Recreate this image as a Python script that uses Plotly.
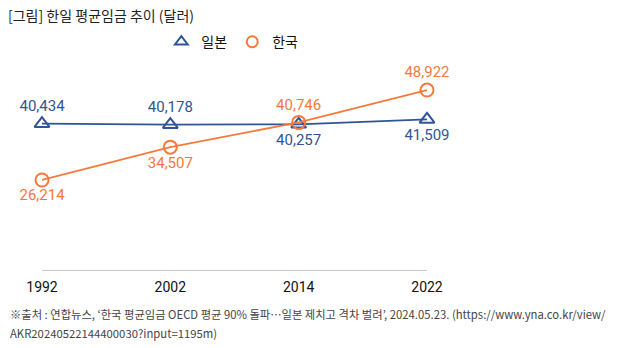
import plotly.graph_objects as go

years = ["1992", "2002", "2014", "2022"]
japan = [40434, 40178, 40257, 41509]
korea = [26214, 34507, 40746, 48922]
japan_pos = ["top center", "top center", "bottom center", "bottom center"]
korea_pos = ["bottom center", "bottom center", "top center", "top center"]

BLUE = "#2F5597"
ORANGE = "#F7793A"
FONT = "Roboto, 'Noto Sans CJK KR', sans-serif"

fig = go.Figure()
fig.add_trace(go.Scatter(
    x=years, y=japan, mode="lines+markers+text", showlegend=False, cliponaxis=False,
    line=dict(color=BLUE, width=1.8),
    marker=dict(symbol="triangle-up-open", size=13, color=BLUE, line=dict(width=2)),
    text=[f"{v:,}" for v in japan], textposition=japan_pos,
    textfont=dict(color=BLUE, size=15, family=FONT),
))
fig.add_trace(go.Scatter(
    x=years, y=korea, mode="lines+markers+text", showlegend=False, cliponaxis=False,
    line=dict(color=ORANGE, width=1.8),
    marker=dict(symbol="circle-open", size=13, color=ORANGE, line=dict(width=2)),
    text=[f"{v:,}" for v in korea], textposition=korea_pos,
    textfont=dict(color=ORANGE, size=15, family=FONT),
))
# legend-only entries (markers only)
fig.add_trace(go.Scatter(x=[None], y=[None], mode="markers", name="일본",
                         marker=dict(symbol="triangle-up-open", size=11, color=BLUE, line=dict(width=2))))
fig.add_trace(go.Scatter(x=[None], y=[None], mode="markers", name="한국",
                         marker=dict(symbol="circle-open", size=11, color=ORANGE, line=dict(width=2))))

fig.update_layout(
    width=625, height=348,
    margin=dict(l=42, r=198, t=60, b=78),
    paper_bgcolor="white", plot_bgcolor="white",
    font=dict(family=FONT, color="#222"),
    title=dict(text="[그림] 한일 평균임금 추이 (달러)", xref="container", x=8/625, xanchor="left",
               yref="container", y=1-16/348, yanchor="middle",
               font=dict(size=14, color="#222", family="'Noto Sans CJK KR', sans-serif")),
    legend=dict(orientation="h", x=0.31, xanchor="left", y=1.085, yanchor="middle",
                font=dict(size=14, color="#111", family="'Noto Sans CJK KR', sans-serif"),
                itemwidth=30, bgcolor="rgba(0,0,0,0)"),
    xaxis=dict(type="category", range=[0, 3], showgrid=False, zeroline=False,
               showline=True, linecolor="#c8c8c8", linewidth=1, ticks="",
               tickfont=dict(size=14, color="#111", family=FONT), ticklabelstandoff=4),
    yaxis=dict(range=[3500, 56500], visible=False, showgrid=False),
)

NOTE_FONT = dict(size=11.3, color="#444", family="'Noto Sans CJK KR', sans-serif")
fig.add_annotation(
    xref="paper", yref="paper", x=(8-42)/385, y=(270-314)/210, xanchor="left", yanchor="middle",
    text="※출처 : 연합뉴스, ‘한국 평균임금 OECD 평균 90% 돌파…일본 제치고 격차 벌려’, 2024.05.23. (https://www.yna.co.kr/view/",
    showarrow=False, font=NOTE_FONT, align="left")
fig.add_annotation(
    xref="paper", yref="paper", x=(8-42)/385, y=(270-333)/210, xanchor="left", yanchor="middle",
    text="AKR20240522144400030?input=1195m)",
    showarrow=False, font=NOTE_FONT, align="left")

fig.write_html("out.html")
